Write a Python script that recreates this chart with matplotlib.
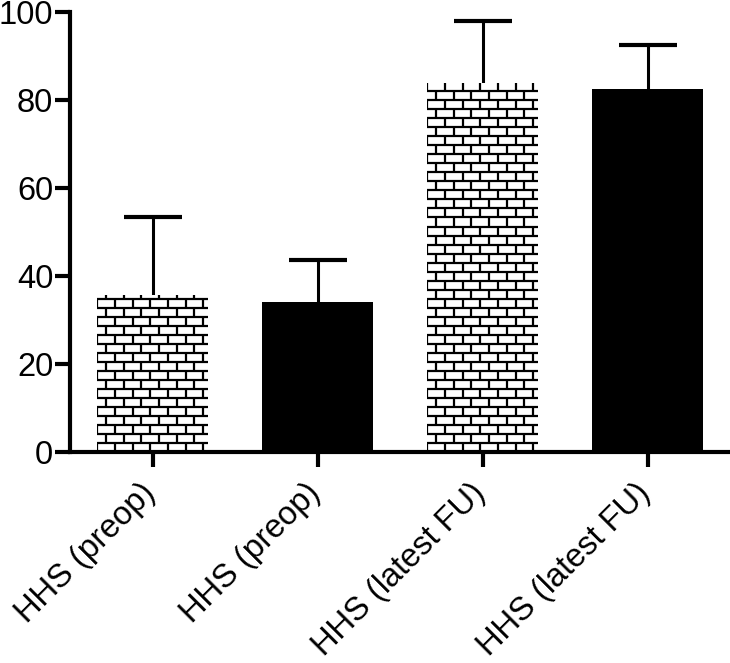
import matplotlib
matplotlib.use('Agg')
import matplotlib.pyplot as plt
import matplotlib.transforms as mtransforms
from matplotlib.collections import LineCollection
import numpy as np

# data
labels = ['HHS (preop)', 'HHS (preop)', 'HHS (latest FU)', 'HHS (latest FU)']
means = [35.7, 34.0, 83.8, 82.4]
upper_err = [17.6, 9.6, 14.2, 10.1]
brick = [True, False, True, False]

FONT = 'Liberation Sans'
FS = 23.5
LW = 3.0
ROW = 2.05      # brick row height (data units)
BRICK = 0.107   # brick length (data units)


def draw_bricks(ax, patch):
    x0, w, h = patch.get_x(), patch.get_width(), patch.get_height()
    segs = []
    nrows = int(np.ceil(h / ROW))
    for r in range(nrows + 1):
        y = r * ROW
        if y <= h:
            segs.append([(x0, y), (x0 + w, y)])
        off = 0 if r % 2 == 0 else BRICK / 2
        xs = np.arange(x0 + off - BRICK, x0 + w + BRICK, BRICK)
        for xv in xs:
            segs.append([(xv, y), (xv, y + ROW)])
    lc = LineCollection(segs, colors='black', linewidths=1.6, zorder=3)
    ax.add_collection(lc)
    lc.set_clip_path(patch)


fig = plt.figure(figsize=(7.3, 6.63), dpi=100)
ax = fig.add_axes([70 / 730, (663 - 452) / 663, 660 / 730, 440 / 663])

x = np.arange(len(labels))
colors = ['white' if b else 'black' for b in brick]
bars = ax.bar(x, means, width=0.67, color=colors, edgecolor='none', zorder=2)
eb = ax.errorbar(x, means, yerr=[np.zeros(len(means)), upper_err], fmt='none',
                 ecolor='black', elinewidth=2.2, capsize=21, capthick=3, zorder=1)
eb[1][0].set_visible(False)  # no lower cap

for b, is_brick in zip(bars, brick):
    if is_brick:
        draw_bricks(ax, b)

ax.set_xlim(-0.5, 3.5)
ax.set_ylim(0, 100)
ax.set_yticks([0, 20, 40, 60, 80, 100])
ax.set_xticks(x)
ax.set_xticklabels([])
for t in ax.get_yticklabels():
    t.set_family(FONT)
    t.set_fontsize(FS)

# rotated category labels, anchored at their right end just below each tick
shift = mtransforms.ScaledTranslation(-9 / 72, -18.5 / 72, fig.dpi_scale_trans)
for xi, lab in zip(x, labels):
    ax.text(xi, 0, lab, transform=ax.get_xaxis_transform() + shift,
            rotation=45, ha='right', va='top', rotation_mode='anchor',
            fontsize=FS, family=FONT, clip_on=False)

ax.spines['top'].set_visible(False)
ax.spines['right'].set_visible(False)
ax.spines['left'].set_linewidth(LW)
ax.spines['bottom'].set_linewidth(LW)
ax.tick_params(axis='both', direction='out', length=11, width=LW, pad=1)

fig.savefig('out.png', dpi=100, facecolor='white')
